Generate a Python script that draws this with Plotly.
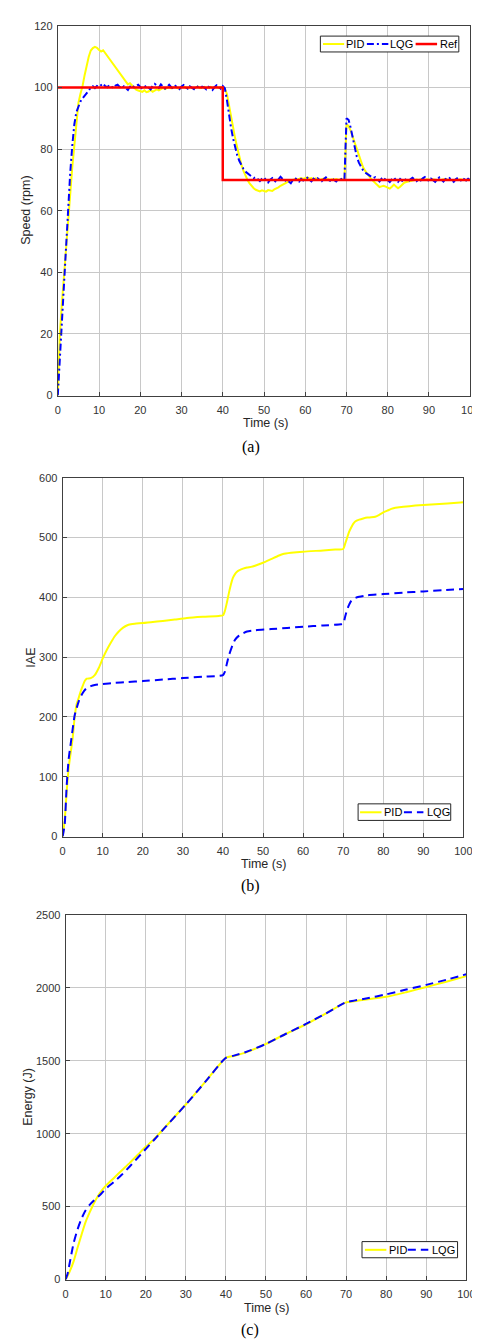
import plotly.graph_objects as go

# ---------------- data ----------------
t_speed = [
    0, 0.5, 1, 1.5, 2, 2.5, 3, 3.5, 4, 4.5, 5, 5.5, 6, 6.5, 7, 7.5, 8, 8.5, 9, 9.5,
    10, 10.5, 11, 11.5, 12, 12.5, 13, 13.5, 14, 14.5, 15, 15.5, 16, 16.5, 17, 17.5, 18, 18.5, 19, 19.5,
    20, 20.5, 21, 21.5, 22, 22.5, 23, 23.5, 24, 24.5, 25, 25.5, 26, 26.5, 27, 27.5, 28, 28.5, 29, 29.5,
    30, 30.5, 31, 31.5, 32, 32.5, 33, 33.5, 34, 34.5, 35, 35.5, 36, 36.5, 37, 37.5, 38, 38.5, 39, 39.5,
    40, 40.5, 41, 41.5, 42, 42.5, 43, 43.5, 44, 44.5, 45, 45.5, 46, 46.5, 47, 47.5, 48, 48.5, 49, 49.5,
    50, 50.5, 51, 51.5, 52, 52.5, 53, 53.5, 54, 54.5, 55, 55.5, 56, 56.5, 57, 57.5, 58, 58.5, 59, 59.5,
    60, 60.5, 61, 61.5, 62, 62.5, 63, 63.5, 64, 64.5, 65, 65.5, 66, 66.5, 67, 67.5, 68, 68.5, 69, 69.5,
    70, 70.5, 71, 71.5, 72, 72.5, 73, 73.5, 74, 74.5, 75, 75.5, 76, 76.5, 77, 77.5, 78, 78.5, 79, 79.5,
    80, 80.5, 81, 81.5, 82, 82.5, 83, 83.5, 84, 84.5, 85, 85.5, 86, 86.5, 87, 87.5, 88, 88.5, 89, 89.5,
    90, 90.5, 91, 91.5, 92, 92.5, 93, 93.5, 94, 94.5, 95, 95.5, 96, 96.5, 97, 97.5, 98, 98.5, 99, 99.5, 100,
]

speed_pid = [
    0, 20, 30, 39, 48, 58, 66, 74, 81, 89, 95, 98, 100.5, 104, 107.5, 110, 112, 112.8, 113.2, 112.9,
    112.2, 111.7, 112.1, 111.2, 110, 109, 108.2, 107.5, 106.6, 105.6, 104.6, 103.7, 102.8, 101.8, 101, 101.4, 100.6, 99.8, 99.3, 99.0,
    98.8, 98.6, 99.1, 98.5, 98.7, 99.2, 98.6, 99.0, 99.4, 99.1, 99.6, 99.9, 99.5, 99.8, 100.2, 99.7, 99.9, 100.3, 99.8, 99.6,
    100.1, 100.4, 99.9, 99.7, 100.2, 99.9, 99.6, 100.1, 100.3, 99.8, 100.0, 100.2, 99.7, 99.9, 100.2, 99.8, 100.0, 100.3, 99.9, 100.1,
    100, 99.6, 98, 94, 90.5, 87, 83.5, 80.5, 77.5, 75, 73, 71.2, 70, 68.9, 68, 67.3, 66.8, 66.5, 66.3, 66.6,
    66.4, 66.2, 66.7, 66.5, 66.4, 66.9, 67.2, 67.6, 68.1, 68.5, 68.9, 69.2, 69.5, 69.8, 70.0, 70.2, 70.1, 70.4, 70.6, 70.3,
    70.5, 70.8, 70.4, 70.6, 70.2, 70.5, 70.3, 70.0, 70.2, 70.4, 70.1, 70.3, 70.0, 70.2, 70.1, 70.3, 70.0, 70.2, 70.1, 70.0,
    88, 87.5, 86, 84, 82, 79.5, 77.5, 75.8, 74.2, 73, 72, 71, 70.3, 69.6, 69, 68.3, 67.7, 67.9, 68.1, 67.8,
    67.5, 67.2, 67.8, 68.5, 67.9, 67.3, 67.8, 68.6, 69.1, 69.3, 69.5, 69.7, 69.8, 70.0, 70.1, 70.0, 70.2, 70.1, 70.0, 70.2,
    70.1, 70.0, 70.2, 70.1, 69.9, 70.1, 70.0, 70.2, 70.1, 70.0, 70.1, 70.0, 69.9, 70.1, 70.0, 70.2, 70.1, 70.0, 69.9, 70.1, 70.0,
]

speed_lqg = [
    0, 12, 24, 36, 50, 62, 72, 81, 88, 92, 94, 95.5, 96.5, 97.3, 98, 99, 100, 100.4, 99.8, 100.5,
    100.2, 100.9, 101.3, 100.4, 100.1, 100.8, 100.3, 99.8, 100.6, 100.9, 100.2, 99.7, 100.4, 99.9, 99.2, 100.3, 100.8, 100.1, 100.6, 100.9,
    100.2, 99.6, 100.1, 100.7, 100.0, 99.4, 100.5, 101.2, 100.6, 99.9, 101.0, 100.4, 99.6, 100.2, 100.9, 100.1, 99.7, 100.5, 100.0, 99.5,
    100.3, 100.8, 100.1, 99.6, 100.4, 100.0, 99.5, 100.6, 100.1, 99.7, 100.3, 100.0, 99.4, 100.2, 99.8, 99.2, 100.1, 100.7, 100.3, 99.6,
    100.5, 99.8, 96, 91, 87, 83.5, 80.5, 78, 76.2, 74.8, 73.6, 72.7, 72.1, 71.6, 71.2, 70.6, 70.9, 70.2, 69.6, 70.4,
    70.8, 69.9, 69.2, 70.1, 70.6, 69.8, 69.3, 70.2, 71.0, 70.3, 69.6, 70.1, 69.4, 68.9, 70.0, 70.6, 70.1, 69.5, 70.3, 69.8,
    70.2, 70.7, 70.0, 69.5, 70.4, 69.9, 70.5, 70.1, 69.6, 70.3, 70.8, 70.1, 69.7, 70.4, 70.0, 69.5, 70.3, 70.6, 69.9, 70.0,
    90, 89.5, 87, 83.5, 80, 77.5, 75.6, 74.2, 73.2, 72.4, 72.0, 71.5, 71.2, 70.6, 70.9, 70.1, 69.5, 70.4, 69.8, 70.6,
    69.9, 69.3, 70.2, 70.8, 69.9, 69.4, 70.3, 69.7, 70.4, 70.0, 69.5, 70.2, 70.7, 70.1, 69.6, 70.3, 69.8, 70.5, 70.9, 70.2,
    69.6, 70.4, 70.0, 69.4, 70.2, 70.8, 70.1, 69.5, 70.3, 69.9, 70.6, 70.0, 69.4, 70.2, 70.7, 70.0, 69.6, 70.3, 69.8, 70.4, 70.0,
]

t_ref = [0, 40, 40, 100]
speed_ref = [100, 100, 70, 70]

t_iae_pid = [0, 0.5, 1, 1.5, 2, 2.5, 3, 3.5, 4, 4.5, 5, 5.5, 6, 7, 8, 9, 10, 11, 12, 13,
             14, 15, 16, 17, 18, 20, 22, 25, 28, 31, 35, 39, 40, 40.5, 41, 41.5, 42, 42.5, 43, 43.5,
             44, 45, 46, 47, 48, 50, 52, 54, 55, 57, 60, 65, 68, 70, 70.5, 71, 71.5, 72, 72.5, 73,
             74, 75, 76, 77, 78, 79, 80, 81, 82, 83, 85, 88, 92, 96, 100]
iae_pid = [0, 27, 75, 115, 140, 165, 200, 222, 232, 243, 252, 260, 264, 265, 270, 282, 298, 312, 324, 335,
           343, 349, 353, 355, 356, 357, 358.5, 360.5, 363, 365.5, 367.5, 369, 370, 378, 392, 408, 422, 433, 439, 443,
           445, 448, 450, 451, 453, 458, 464, 470, 472.5, 474.5, 476.5, 478.5, 480, 481, 490, 500, 510, 517, 523, 527,
           530, 532, 533.5, 534, 535, 538, 542, 545, 548, 550, 551.5, 553.5, 555.5, 557, 559]

t_iae_lqg = [0, 0.5, 1, 1.5, 2, 2.5, 3, 3.5, 4, 4.5, 5, 5.5, 6, 7, 8, 10, 13, 16, 20, 25,
             30, 35, 40, 40.5, 41, 41.5, 42, 42.5, 43, 44, 45, 46, 48, 52, 56, 60, 65, 69.5, 70, 70.5,
             71, 71.5, 72, 73, 74, 76, 80, 85, 90, 95, 100]
iae_lqg = [0, 20, 85, 130, 155, 180, 203, 215, 226, 234, 240, 245, 248, 251.5, 253.5, 255, 257, 258.5, 260, 262.5,
           265, 267.5, 270, 276, 290, 303, 313, 322, 329, 336, 340, 343, 345, 347, 349, 351, 353, 355, 356, 368,
           380, 388, 394, 399, 401, 403.5, 405.5, 408, 410, 412, 414]

t_en_pid = [0, 1, 2, 3, 4, 5, 6, 7, 8, 9, 10, 12, 14, 16, 18, 20, 22, 25, 30, 35, 40,
            42, 45, 50, 55, 60, 65, 70, 72, 75, 80, 85, 90, 95, 100]
energy_pid = [0, 55, 125, 220, 310, 395, 460, 520, 570, 610, 642, 695, 748, 800, 855, 910, 960, 1050, 1200, 1360, 1520,
              1533, 1557, 1615, 1685, 1750, 1825, 1900, 1908, 1920, 1938, 1970, 2005, 2042, 2080]

t_en_lqg = [0, 0.5, 1, 2, 3, 4, 5, 6, 7, 8, 9, 10, 12, 14, 16, 18, 20, 22, 25, 30,
            35, 40, 42, 45, 50, 55, 60, 65, 70, 72, 75, 80, 85, 90, 95, 100]
energy_lqg = [0, 40, 110, 250, 345, 420, 475, 512, 540, 565, 592, 622, 668, 718, 775, 835, 895, 955, 1048, 1200,
              1360, 1520, 1535, 1560, 1615, 1685, 1752, 1825, 1902, 1912, 1927, 1955, 1988, 2020, 2055, 2093]

x_ticks = [0, 10, 20, 30, 40, 50, 60, 70, 80, 90, 100]

# ---------------- style ----------------
W, H = 480, 1339
YELLOW, BLUE, RED = "#FFFF00", "#0000FF", "#FF0000"
DASHDOT = "7px,3px,2px,3px"
DASH = "8px,5px"
SANS = "Liberation Sans, Arial, sans-serif"
SERIF = "Liberation Serif, Times New Roman, serif"


def px(x):
    return x / W


def py(y):
    return 1 - y / H


fig = go.Figure()

# (a) speed
fig.add_trace(go.Scatter(x=t_speed, y=speed_pid, mode="lines", name="PID",
                         line=dict(color=YELLOW, width=2), xaxis="x", yaxis="y"))
fig.add_trace(go.Scatter(x=t_speed, y=speed_lqg, mode="lines", name="LQG",
                         line=dict(color=BLUE, width=2, dash=DASHDOT), xaxis="x", yaxis="y"))
fig.add_trace(go.Scatter(x=t_ref, y=speed_ref, mode="lines", name="Ref",
                         line=dict(color=RED, width=2.5), xaxis="x", yaxis="y"))
# (b) IAE
fig.add_trace(go.Scatter(x=t_iae_pid, y=iae_pid, mode="lines", name="PID",
                         line=dict(color=YELLOW, width=2, shape="spline", smoothing=0.6),
                         xaxis="x2", yaxis="y2"))
fig.add_trace(go.Scatter(x=t_iae_lqg, y=iae_lqg, mode="lines", name="LQG",
                         line=dict(color=BLUE, width=2, dash=DASH, shape="spline", smoothing=0.6),
                         xaxis="x2", yaxis="y2"))
# (c) Energy
fig.add_trace(go.Scatter(x=t_en_pid, y=energy_pid, mode="lines", name="PID",
                         line=dict(color=YELLOW, width=2, shape="spline", smoothing=0.6),
                         xaxis="x3", yaxis="y3"))
fig.add_trace(go.Scatter(x=t_en_lqg, y=energy_lqg, mode="lines", name="LQG",
                         line=dict(color=BLUE, width=2, dash=DASH, shape="spline", smoothing=0.6),
                         xaxis="x3", yaxis="y3"))

axis_common = dict(showline=True, mirror=True, linecolor="#404040", linewidth=1,
                   showgrid=True, gridcolor="#c8c8c8", gridwidth=1, zeroline=False,
                   ticks="inside", ticklen=4, tickcolor="#404040",
                   tickfont=dict(family=SANS, size=11, color="#333333"))

panels = [
    # (x0, x1, ytop, ybottom, yrange, dtick)
    (48, 471, 12, 385, [0, 120], 20),
    (53, 464, 468, 830, [0, 600], 100),
    (56, 467, 909, 1277, [0, 2500], 500),
]

layout = dict(width=W, height=H, margin=dict(l=0, r=0, t=0, b=0),
              paper_bgcolor="white", plot_bgcolor="white", showlegend=False)
for i, (x0, x1, yt, yb, yr, dt) in enumerate(panels, start=1):
    sx = "" if i == 1 else str(i)
    layout["xaxis" + sx] = dict(domain=[px(x0), px(x1)], range=[0, 100], tickvals=x_ticks,
                                anchor="y" + sx, ticklabelstandoff=4, **axis_common)
    layout["yaxis" + sx] = dict(domain=[py(yb), py(yt)], range=yr, dtick=dt,
                                anchor="x" + sx, ticklabelstandoff=2, **axis_common)
fig.update_layout(**layout)

annotations = []
shapes = []


def text(x, y, s, size=12, family=SANS, angle=0, xanchor="center", color="#262626"):
    annotations.append(dict(x=px(x), y=py(y), xref="paper", yref="paper", text=s,
                            showarrow=False, xanchor=xanchor, yanchor="middle", textangle=angle,
                            font=dict(family=family, size=size, color=color)))


# axis titles
text(261, 413, "Time (s)", size=12.5)
text(16, 198, "Speed (rpm)", size=12.5, angle=-90)
text(259, 858, "Time (s)", size=12.5)
text(21, 649, "IAE", size=12.5, angle=-90)
text(262, 1306, "Time (s)", size=12.5)
text(18, 1093, "Energy (J)", size=12.5, angle=-90)
# captions
text(246, 437, "(a)", size=16, family=SERIF, color="black")
text(246, 880, "(b)", size=16, family=SERIF, color="black")
text(245, 1328, "(c)", size=16, family=SERIF, color="black")


def legend(box, yc, items):
    shapes.append(dict(type="rect", xref="paper", yref="paper",
                       x0=px(box[0]), x1=px(box[1]), y0=py(box[3]), y1=py(box[2]),
                       line=dict(color="#262626", width=1), fillcolor="white", layer="above"))
    for (lx0, lx1, color, dash, w, label, tx) in items:
        shapes.append(dict(type="line", xref="paper", yref="paper",
                           x0=px(lx0), x1=px(lx1), y0=py(yc), y1=py(yc),
                           line=dict(color=color, width=w, dash=dash), layer="above"))
        text(tx, yc, label, size=11, xanchor="left", color="black")


legend((317.3, 459.3, 22.3, 38.3), 30.3, [
    (320, 341.7, YELLOW, "solid", 2, "PID", 342),
    (365, 387, BLUE, DASHDOT, 2, "LQG", 387),
    (415, 437, RED, "solid", 2.5, "Ref", 438),
])
legend((356, 451, 797, 813.7), 805.5, [
    (358, 380, YELLOW, "solid", 2, "PID", 380.5),
    (403, 423, BLUE, DASH, 2, "LQG", 425),
])
legend((360, 458, 1238.7, 1255), 1247, [
    (363, 385, YELLOW, "solid", 2, "PID", 385.5),
    (407, 428, BLUE, DASH, 2, "LQG", 430),
])

fig.update_layout(annotations=annotations, shapes=shapes)
fig.write_html("out.html")
